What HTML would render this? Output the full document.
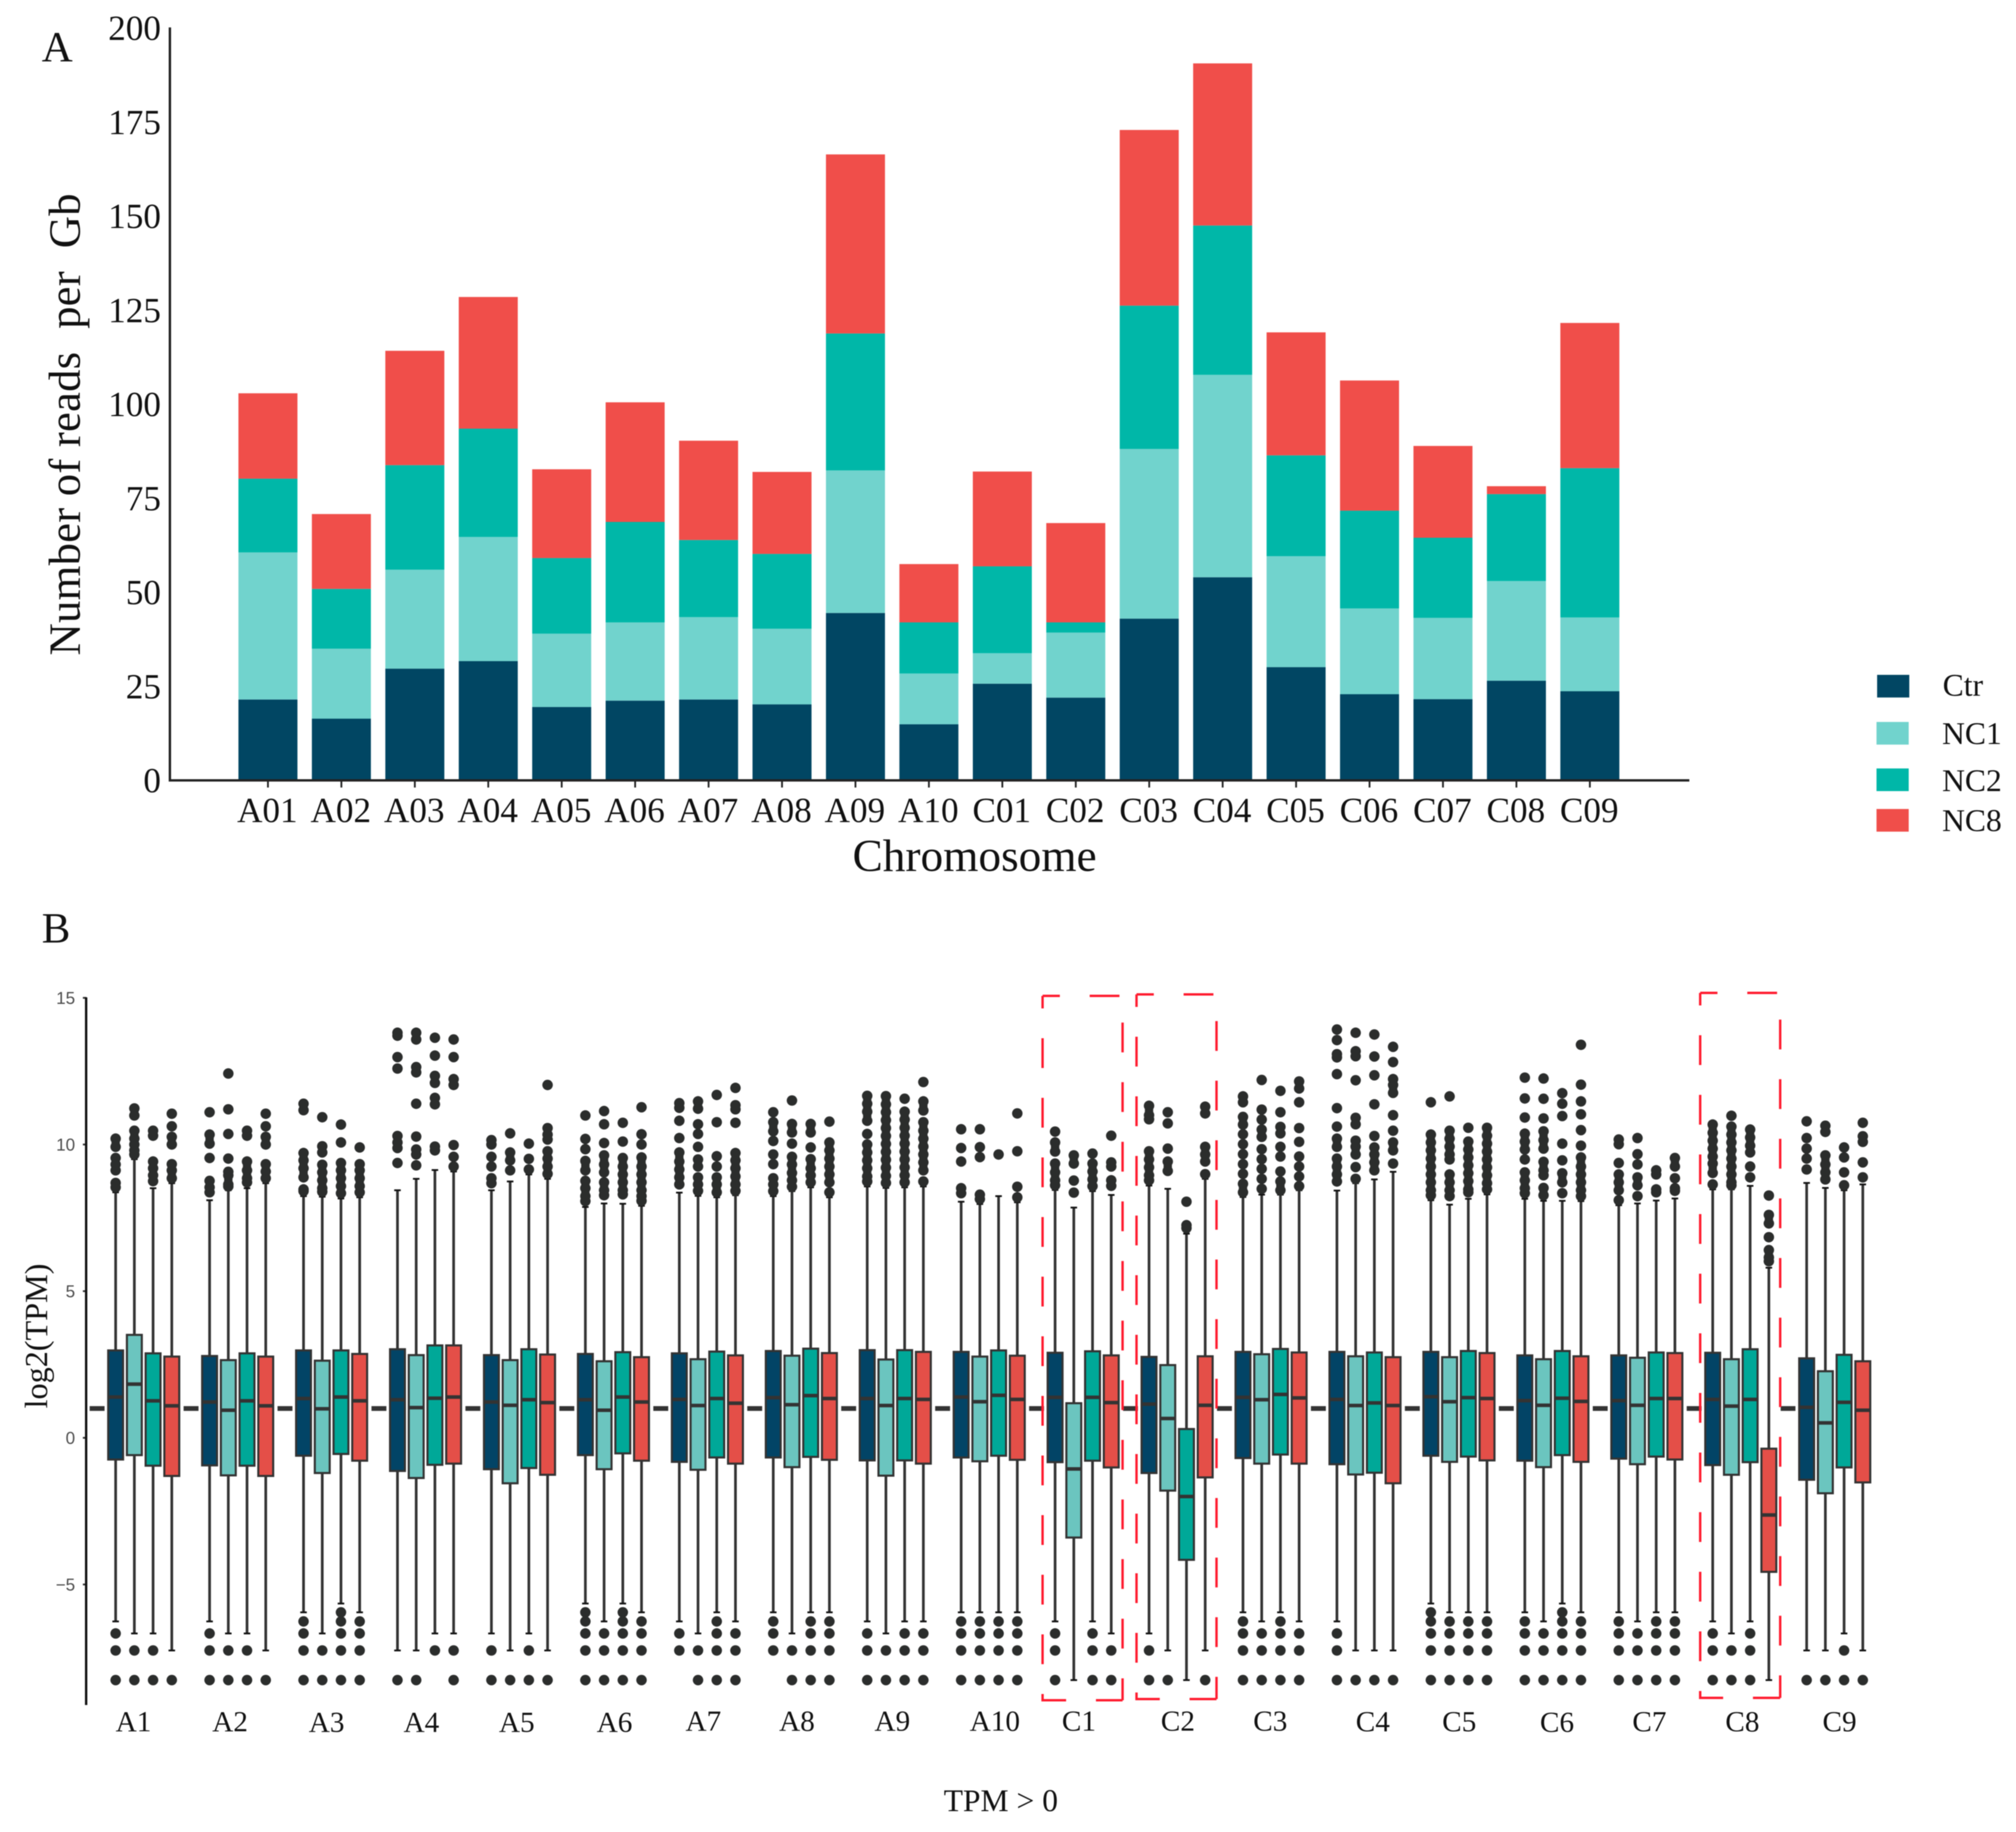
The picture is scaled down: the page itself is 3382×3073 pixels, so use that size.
<!DOCTYPE html>
<html lang="en">
<head>
<meta charset="utf-8">
<title>Reads per Gb and log2(TPM) by chromosome</title>
<style>
html,body{margin:0;padding:0;background:#fff;}
svg{display:block;filter:blur(0.7px);}
text{font-family:"Liberation Serif",serif;fill:#111;}
</style>
</head>
<body>
<svg id="figure" xmlns="http://www.w3.org/2000/svg" width="3382" height="3073" viewBox="0 0 3382 3073">
  <rect x="0" y="0" width="3382" height="3073" fill="#fff"/>
  <text x="70" y="103" font-size="72">A</text>
  <text x="70" y="1581" font-size="72">B</text>
  <text transform="translate(134,712) rotate(-90)" text-anchor="middle" font-size="75" textLength="775" lengthAdjust="spacing" xml:space="preserve">Number of reads  per  Gb</text>
  <text x="1635" y="1461" text-anchor="middle" font-size="76">Chromosome</text>
  <text transform="translate(79,2241) rotate(-90)" text-anchor="middle" font-size="54">log2(TPM)</text>
  <text x="1679" y="3038" text-anchor="middle" font-size="53">TPM &gt; 0</text>

  <g>
    <rect x="3149" y="1132" width="54" height="38" fill="#014663"/>
    <text x="3259" y="1167" font-size="53">Ctr</text>
    <rect x="3148" y="1211" width="54" height="38" fill="#71D3CD"/>
    <text x="3258" y="1248" font-size="53">NC1</text>
    <rect x="3148" y="1289" width="54" height="38" fill="#00B7A8"/>
    <text x="3258" y="1327" font-size="53">NC2</text>
    <rect x="3148" y="1357" width="54" height="38" fill="#F04E4A"/>
    <text x="3258" y="1394" font-size="53">NC8</text>
  </g>

  <g font-size="49" text-anchor="middle">
    <text x="224" y="2904">A1</text>
    <text x="386" y="2904">A2</text>
    <text x="548" y="2905">A3</text>
    <text x="707" y="2905">A4</text>
    <text x="867" y="2905">A5</text>
    <text x="1031" y="2905">A6</text>
    <text x="1180" y="2903">A7</text>
    <text x="1337" y="2903">A8</text>
    <text x="1497" y="2903">A9</text>
    <text x="1669" y="2903">A10</text>
    <text x="1810" y="2903">C1</text>
    <text x="1976" y="2903">C2</text>
    <text x="2131" y="2903">C3</text>
    <text x="2303" y="2904">C4</text>
    <text x="2448" y="2904">C5</text>
    <text x="2612" y="2905">C6</text>
    <text x="2767" y="2904">C7</text>
    <text x="2923" y="2904">C8</text>
    <text x="3086" y="2904">C9</text>
  </g>
  <g id="panelA"></g>
  <g id="panelB"></g>
</svg>
<script>
/* ---------- Panel A data ---------- */
const chromosomes = ["A01","A02","A03","A04","A05","A06","A07","A08","A09","A10","C01","C02","C03","C04","C05","C06","C07","C08","C09"];
const readsCtr = [21.5,16.4,29.7,31.7,19.5,21.2,21.5,20.2,44.5,14.9,25.7,22,43,54,30.1,22.9,21.6,26.5,23.7];
const readsNC1 = [39.1,18.6,26.3,33,19.5,20.8,21.9,20.1,37.9,13.5,8.1,17.3,45.1,53.8,29.5,22.8,21.6,26.5,19.6];
const readsNC2 = [19.6,15.9,27.8,28.8,20.1,26.7,20.5,19.9,36.4,13.6,23.1,2.7,38.1,39.7,26.8,26,21.3,23.1,39.7];
const readsNC8 = [22.7,19.9,30.4,35,23.6,31.8,26.4,21.8,47.6,15.5,25.2,26.4,46.7,43.1,32.7,34.6,24.4,2.1,38.6];
const readsTicks = [0,25,50,75,100,125,150,175,200];

/* ---------- Panel B data: one row per chromosome, columns Ctr, NC1, NC2, NC8 ---------- */
const boxGroups = ["A1","A2","A3","A4","A5","A6","A7","A8","A9","A10","C1","C2","C3","C4","C5","C6","C7","C8","C9"];
const seriesNames = ["Ctr","NC1","NC2","NC8"];
const tpmTicks = [15,10,5,0,-5];
const thresholdValue = 1;
const boxQ3 = [
[2.98,3.51,2.88,2.77],[2.79,2.65,2.88,2.77],[2.98,2.63,2.98,2.86],[3.02,2.82,3.15,3.15],[2.82,2.65,3.02,2.84],
[2.86,2.61,2.92,2.75],[2.88,2.68,2.94,2.81],[2.96,2.8,3.04,2.89],[2.99,2.67,2.99,2.93],[2.93,2.77,2.98,2.8],
[2.9,1.18,2.95,2.81],[2.76,2.48,0.3,2.78],[2.93,2.85,3.03,2.91],[2.93,2.78,2.91,2.75],[2.93,2.75,2.96,2.89],
[2.81,2.68,2.96,2.78],[2.81,2.73,2.91,2.89],[2.9,2.68,3.02,-0.37],[2.71,2.27,2.83,2.61]];
const boxMedian = [
[1.39,1.83,1.26,1.09],[1.22,0.94,1.26,1.09],[1.34,0.99,1.39,1.26],[1.3,1.03,1.35,1.39],[1.22,1.11,1.3,1.2],
[1.3,0.94,1.39,1.22],[1.31,1.1,1.34,1.18],[1.37,1.13,1.44,1.34],[1.34,1.1,1.34,1.31],[1.39,1.23,1.45,1.31],
[1.38,-1.06,1.38,1.2],[1.15,0.66,-2,1.11],[1.38,1.3,1.48,1.36],[1.31,1.1,1.19,1.1],[1.4,1.23,1.37,1.34],
[1.27,1.11,1.35,1.24],[1.27,1.11,1.34,1.34],[1.31,1.08,1.31,-2.63],[1.04,0.51,1.21,0.94]];
const boxQ1 = [
[-0.74,-0.59,-0.95,-1.3],[-0.94,-1.28,-0.95,-1.3],[-0.61,-1.2,-0.55,-0.78],[-1.13,-1.37,-0.92,-0.88],[-1.07,-1.55,-1.03,-1.26],
[-0.59,-1.07,-0.53,-0.78],[-0.82,-1.09,-0.67,-0.88],[-0.67,-1,-0.65,-0.75],[-0.77,-1.29,-0.77,-0.88],[-0.67,-0.8,-0.61,-0.75],
[-0.83,-3.4,-0.78,-1.01],[-1.2,-1.8,-4.16,-1.35],[-0.69,-0.88,-0.57,-0.88],[-0.9,-1.25,-1.19,-1.55],[-0.61,-0.82,-0.64,-0.77],
[-0.78,-1,-0.59,-0.82],[-0.71,-0.9,-0.64,-0.74],[-0.93,-1.26,-0.83,-4.57],[-1.43,-1.89,-1.01,-1.52]];
const whiskerHigh = [
[8.37,9.5,8.51,8.68],[8.1,8.44,8.51,8.68],[8.24,8.22,8.16,8.2],[8.44,8.83,9.13,9.08],[8.44,8.74,8.98,8.83],
[7.87,7.99,7.98,7.91],[8.36,8.25,8.2,8.27],[8.24,8.41,8.54,8.2],[8.57,8.52,8.54,8.57],[8.05,7.97,8.24,8.03],
[8.45,7.85,8.41,8.28],[8.6,8.49,6.96,8.83],[8.21,8.29,8.29,8.44],[8.43,8.68,8.81,9.07],[8.1,7.95,8.15,8.3],
[8.15,8.08,8.08,8.07],[7.93,7.99,8.09,8.16],[8.47,8.47,8.59,5.8],[8.69,8.52,8.44,8.64]];
const whiskerLow = [
[-6.26,-6.67,-6.67,-7.25],[-6.26,-6.67,-6.67,-7.25],[-5.95,-6.67,-5.65,-5.95],[-7.25,-7.25,-6.67,-6.67],[-6.67,-7.25,-6.67,-7.25],
[-5.65,-6.26,-5.65,-5.95],[-6.26,-6.67,-5.95,-6.26],[-5.95,-6.67,-5.95,-5.95],[-6.26,-6.67,-6.26,-6.26],[-5.95,-5.95,-5.95,-5.95],
[-6.26,-8.26,-6.26,-6.67],[-6.67,-7.25,-8.26,-7.25],[-5.95,-6.26,-5.95,-6.26],[-6.26,-7.25,-7.25,-7.25],[-5.65,-5.95,-5.95,-5.95],
[-5.95,-6.26,-5.65,-5.95],[-5.95,-6.26,-5.95,-5.95],[-6.26,-6.67,-6.26,-8.26],[-7.25,-7.25,-6.67,-7.25]];
const outliersHigh = [
[[10.2,9.92,9.54,9.32,9.12,8.69,8.54],[11.23,10.99,10.47,10.2,10,9.8,9.66],[10.47,10.3,9.42,9.19,8.95,8.75],[11.05,10.62,10.26,10,9.33,9.12,8.85]],
[[11.1,10.34,10.03,9.54,8.76,8.54,8.37],[12.42,11.2,10.36,9.52,9.07,8.95,8.64,8.57],[10.47,10.3,9.42,9.12,8.85,8.71],[11.05,10.62,10.26,10,9.33,9.08,8.85]],
[[11.39,11.17,9.71,9.46,9.19,8.88,8.47,8.41],[10.93,9.94,9.73,9.31,9.05,8.78,8.51,8.39],[10.68,10.07,9.37,9.12,8.85,8.58,8.34],[9.9,9.33,9.12,8.85,8.58,8.37]],
[[13.81,13.71,12.98,12.59,10.29,10.07,9.88,9.37],[13.81,13.58,12.64,12.46,11.39,10.27,9.83,9.66,9.29],[13.64,13.03,12.34,12.1,11.59,11.37,9.93,9.8],[13.58,12.98,12.23,12.03,9.98,9.58,9.25]],
[[10.15,10,9.58,9.25,8.85,8.68],[10.38,9.73,9.46,9.12],[10.03,9.51,9.15],[12.03,10.56,10.34,10.17,9.77,9.52,9.25,9]],
[[10.99,10.19,9.84,9.44,9.12,8.76,8.51,8.24,8.07],[11.14,10.69,10.05,9.63,9.32,9.05,8.71,8.44,8.27],[10.74,10.1,9.54,9.25,8.98,8.71,8.44,8.3],[11.27,10.35,10,9.56,9.25,8.98,8.71,8.44,8.24,8.08]],
[[11.41,11.25,10.81,10.22,9.73,9.42,9.15,8.88,8.64],[11.47,11.22,10.69,10.36,9.92,9.49,9.25,8.88,8.64,8.42],[11.69,10.76,9.6,9.25,8.88,8.64,8.37],[11.93,11.34,11.2,10.74,9.71,9.46,9.19,8.91,8.64,8.42]],
[[11.1,10.76,10.45,10.12,9.66,9.33,8.85,8.64,8.41],[11.5,10.7,10.41,10.03,9.58,9.32,9.03,8.78,8.56],[10.7,10.41,9.9,9.5,9.19,8.95,8.71],[10.78,10.07,9.8,9.52,9.25,8.98,8.71,8.37]],
[[11.66,11.39,11.12,10.81,10.36,10,9.73,9.46,9.19,8.91,8.74],[11.65,11.37,11.1,10.83,10.56,10.29,10.02,9.75,9.48,9.21,8.93,8.69],[11.56,11.12,10.85,10.57,10.3,10.03,9.76,9.49,9.22,8.95,8.71],[12.13,11.47,11.16,10.76,10.47,10.2,9.93,9.66,9.39,9.12,8.74]],
[[10.52,9.88,9.42,8.51,8.34],[10.52,9.91,9.57,8.29,8.14],[9.66],[11.06,9.77,8.56,8.2]],
[[10.44,10.07,9.76,9.35,9.05,8.78,8.61],[9.63,9.35,8.77,8.36],[9.69,9.35,9.08,8.81,8.58],[10.3,9.39,9.25,8.78,8.59]],
[[11.32,11,10.86,9.77,9.49,9.22,8.95,8.78],[11.1,10.72,9.86,9.42,9.1],[8.05,7.25,7.15],[11.29,11.06,9.92,9.66,9.42,8.99]],
[[11.64,11.44,10.94,10.68,10.35,10.01,9.67,9.33,9,8.66,8.37],[12.2,11.19,10.85,10.51,10.26,9.84,9.5,9.17,8.83,8.49],[11.83,11.1,10.6,10.38,9.92,9.59,9.08,8.74,8.44],[12.15,11.91,11.44,10.56,10.09,9.59,9.25,8.91,8.58]],
[[13.92,13.56,13.08,12.97,12.4,11.24,10.61,10.2,9.92,9.52,9.25,8.98,8.74],[13.81,13.18,13.01,12.19,10.91,10.69,10.13,9.93,9.66,9.23,8.83],[13.75,13,12.36,11.37,10.29,9.9,9.66,9.39,9.12],[13.33,12.81,12.23,12.03,11.76,11,10.47,10.07,9.8,9.35]],
[[11.44,10.34,10.07,9.8,9.52,9.25,8.98,8.71,8.44,8.27],[11.64,10.47,10.2,9.93,9.66,9.49,8.98,8.71,8.44,8.24],[10.57,10.1,9.83,9.56,9.29,9.02,8.75,8.47,8.37],[10.57,10.3,10.03,9.76,9.49,9.22,8.95,8.68,8.47]],
[[12.28,11.57,10.92,10.37,10.1,9.83,9.49,9.05,8.78,8.51,8.34],[12.25,11.56,10.89,10.45,10.15,9.86,9.41,9.12,8.95,8.52,8.27],[11.75,11.39,10.97,10.03,9.46,9.02,8.71,8.34],[13.4,12.04,11.47,11.03,10.49,9.96,9.56,9.25,8.98,8.71,8.44,8.24]],
[[10.17,10.01,9.37,8.98,8.71,8.44,8.1],[10.22,9.67,9.32,8.88,8.61,8.24],[9.12,8.98,8.47,8.37],[9.54,9.25,8.85,8.51,8.42]],
[[10.68,10.4,10.13,9.86,9.59,9.35,9.03,8.64],[10.98,10.61,10.34,10.07,9.8,9.52,9.25,8.98,8.71,8.61],[10.51,10.24,9.96,9.73,9.25,8.88],[8.26,7.6,7.31,6.84,6.4,6.15,6.02]],
[[10.79,10.22,9.86,9.52,9.15],[10.64,10.43,9.63,9.32,9.05,8.81],[9.9,9.56,9.05,8.61],[10.74,10.28,10.09,9.39,8.88]]];
const outliersLow = [
[[-6.67,-7.25,-8.26],[-7.25,-8.26],[-7.25,-8.26],[-8.26]],
[[-6.67,-7.25,-8.26],[-7.25,-8.26],[-7.25,-8.26],[-8.26]],
[[-6.26,-6.67,-7.25,-8.26],[-7.25,-8.26],[-5.95,-6.26,-6.67,-7.25,-8.26],[-6.26,-6.67,-7.25,-8.26]],
[[-8.26],[-8.26],[-7.25],[-7.25,-8.26]],
[[-7.25,-8.26],[-8.26],[-7.25,-8.26],[-8.26]],
[[-5.95,-6.26,-6.67,-7.25,-8.26],[-6.67,-7.25,-8.26],[-5.95,-6.26,-6.67,-7.25,-8.26],[-6.26,-6.67,-7.25,-8.26]],
[[-6.67,-7.25],[-7.25,-8.26],[-6.26,-6.67,-7.25,-8.26],[-6.67,-7.25,-8.26]],
[[-6.26,-6.67,-7.25],[-7.25,-8.26],[-6.26,-6.67,-7.25,-8.26],[-6.26,-6.67,-7.25,-8.26]],
[[-6.67,-7.25,-8.26],[-7.25,-8.26],[-6.67,-7.25,-8.26],[-6.67,-7.25,-8.26]],
[[-6.26,-6.67,-7.25,-8.26],[-6.26,-6.67,-7.25,-8.26],[-6.26,-6.67,-7.25,-8.26],[-6.26,-6.67,-7.25,-8.26]],
[[-6.67,-7.25,-8.26],[],[-6.67,-7.25,-8.26],[-7.25,-8.26]],
[[-7.25,-8.26],[-8.26],[],[-8.26]],
[[-6.26,-6.67,-7.25,-8.26],[-6.67,-7.25,-8.26],[-6.26,-6.67,-7.25,-8.26],[-6.67,-7.25,-8.26]],
[[-6.67,-7.25,-8.26],[-8.26],[-8.26],[-8.26]],
[[-5.95,-6.26,-6.67,-7.25,-8.26],[-6.26,-6.67,-7.25,-8.26],[-6.26,-6.67,-7.25,-8.26],[-6.26,-6.67,-7.25,-8.26]],
[[-6.26,-6.67,-7.25,-8.26],[-6.67,-7.25,-8.26],[-5.95,-6.26,-6.67,-7.25,-8.26],[-6.26,-6.67,-7.25,-8.26]],
[[-6.26,-6.67,-7.25,-8.26],[-6.67,-7.25,-8.26],[-6.26,-6.67,-7.25,-8.26],[-6.26,-6.67,-7.25,-8.26]],
[[-6.67,-7.25,-8.26],[-7.25,-8.26],[-6.67,-7.25,-8.26],[]],
[[-8.26],[-8.26],[-7.25,-8.26],[-8.26]]];

/* ---------- Helpers and scales ---------- */
const SVGNS = "http://www.w3.org/2000/svg";
function make(tag, parent, attrs, txt) {
  const el = document.createElementNS(SVGNS, tag);
  for (const k in attrs) el.setAttribute(k, attrs[k]);
  if (txt !== undefined) el.textContent = txt;
  parent.appendChild(el);
  return el;
}
function slug(s) { return String(s).toLowerCase().replace(/[^a-z0-9]+/g, "-"); }
const yA = v => 1309 - v * 6.31;
const xA = i => 449.5 + i * 123.2;
const yB = v => 2411.8 - v * 49.2;
const xB = (g, s) => 194 + g * 157.6 + s * 31.4;

/* ---------- Panel A ---------- */
const panelA = document.getElementById("panelA");
const barSeries = [
  ["ctr", readsCtr, "#014663"],
  ["nc1", readsNC1, "#71D3CD"],
  ["nc2", readsNC2, "#00B7A8"],
  ["nc8", readsNC8, "#F04E4A"]
];
chromosomes.forEach((name, i) => {
  let base = 0;
  barSeries.forEach(([key, vals, color]) => {
    const top = base + vals[i];
    const bar = make("rect", panelA, {x: xA(i) - 49.5, y: yA(top), width: 99, height: yA(base) - yA(top), fill: color});
    
    
    base = top;
  });
  const tick = make("line", panelA, {x1: xA(i), x2: xA(i), y1: 1309, y2: 1321, stroke: "#222", "stroke-width": 3});
  
  
  const label = make("text", panelA, {x: xA(i) - 1, y: 1379, "text-anchor": "middle", "font-size": 59}, name);
  
  
});
readsTicks.forEach(v => {
  const label = make("text", panelA, {x: 270, y: yA(v) + 20, "text-anchor": "end", "font-size": 59}, v);
  
  
});
const axisAY = make("line", panelA, {x1: 285, x2: 285, y1: 46, y2: 1311, stroke: "#222", "stroke-width": 4});


const axisAX = make("line", panelA, {x1: 283, x2: 2834, y1: 1309, y2: 1309, stroke: "#222", "stroke-width": 4});



/* ---------- Panel B ---------- */
const panelB = document.getElementById("panelB");
const boxFill = ["#024466", "#6BC5BF", "#00A898", "#E44F48"];
const INK = "#333333";
const DOT = "#2B2D2C";

const refLine = make("line", panelB, {x1: 150.4, x2: 3012, y1: yB(thresholdValue), y2: yB(thresholdValue), stroke: INK, "stroke-width": 8, "stroke-dasharray": "25 132.6"});



boxGroups.forEach((name, g) => {
  seriesNames.forEach((series, s) => {
    const x = xB(g, s);
    const key = slug(name) + '-' + slug(series);
    const whisker = make("line", panelB, {x1: x, x2: x, y1: yB(whiskerHigh[g][s]), y2: yB(whiskerLow[g][s]), stroke: INK, "stroke-width": 4.5});
    
    
    const capTop = make("line", panelB, {x1: x - 5.5, x2: x + 5.5, y1: yB(whiskerHigh[g][s]), y2: yB(whiskerHigh[g][s]), stroke: "#111", "stroke-width": 3});
    
    
    const capLow = make("line", panelB, {x1: x - 5.5, x2: x + 5.5, y1: yB(whiskerLow[g][s]), y2: yB(whiskerLow[g][s]), stroke: "#111", "stroke-width": 3});
    
    
    const box = make("rect", panelB, {x: x - 12.5, y: yB(boxQ3[g][s]), width: 25, height: yB(boxQ1[g][s]) - yB(boxQ3[g][s]), fill: boxFill[s], stroke: INK, "stroke-width": 3.5});
    
    
    const median = make("line", panelB, {x1: x - 12.5, x2: x + 12.5, y1: yB(boxMedian[g][s]), y2: yB(boxMedian[g][s]), stroke: INK, "stroke-width": 6});
    
    
    const high = outliersHigh[g][s];
    high.forEach((v, k) => {
      /* closely spaced outliers merge into one continuous column, as overplotted points do */
      if (k > 0 && Math.abs(high[k - 1] - v) < 0.33) {
        const join = make("line", panelB, {x1: x, x2: x, y1: yB(high[k - 1]), y2: yB(v), stroke: DOT, "stroke-width": 14});
        
        
      }
    });
    high.concat(outliersLow[g][s]).forEach(v => {
      const dot = make("circle", panelB, {cx: x, cy: yB(v), r: 8.8, fill: DOT});
      
      
    });
  });
});

function drawHighlight(name, top, bottom) {
  const g = boxGroups.indexOf(name);
  const left = xB(g, 0) - 21;
  const right = xB(g, 3) + 19;
  const sideA = make("path", panelB, {d: "M" + left + " " + top + "H" + right + "V" + bottom, fill: "none", stroke: "#FF1A2E", "stroke-width": 4, "stroke-dasharray": "50 50", "stroke-dashoffset": 21});
  
  
  const sideB = make("path", panelB, {d: "M" + left + " " + top + "V" + bottom + "H" + right, fill: "none", stroke: "#FF1A2E", "stroke-width": 4, "stroke-dasharray": "50 50", "stroke-dashoffset": 29});
  
  
}
drawHighlight("C1", 1670.5, 2852);
drawHighlight("C2", 1668, 2850);
drawHighlight("C8", 1665.5, 2848);

tpmTicks.forEach(v => {
  const tick = make("line", panelB, {x1: 139, x2: 145, y1: yB(v), y2: yB(v), stroke: "#333", "stroke-width": 3});
  
  
  const label = make("text", panelB, {x: 126, y: yB(v) + 10, "text-anchor": "end", "font-size": 28.5, style: 'font-family:"Liberation Sans",sans-serif;fill:#4d4d4d'}, v < 0 ? "\u2212" + Math.abs(v) : v);
  
  
});
const axisBY = make("line", panelB, {x1: 144.5, x2: 144.5, y1: 1673, y2: 2860, stroke: "#111", "stroke-width": 4});


</script>
</body>
</html>
